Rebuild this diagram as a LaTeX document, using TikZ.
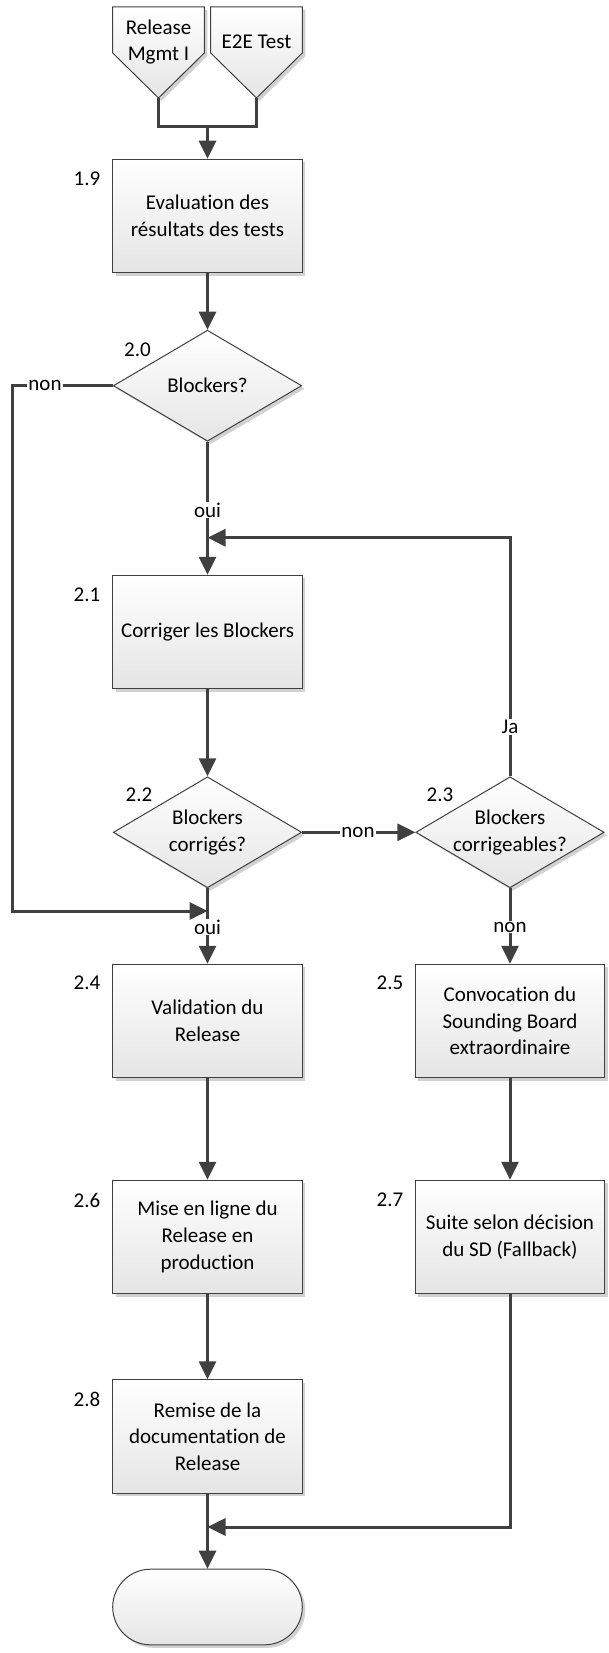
\documentclass[tikz,border=0pt]{standalone}
\usepackage{fontspec}
\setmainfont{Carlito}[RawFeature={-liga;-clig;-calt;-dlig}]
\usetikzlibrary{arrows.meta,shapes.geometric,shadows}
\definecolor{lineclr}{HTML}{404040}
\definecolor{fillbot}{HTML}{E5E5E5}

\begin{document}
\begin{tikzpicture}[x=1pt, y=-1pt,
  every node/.style={font=\fontsize{21}{26.7}\selectfont},
  shade/.style={draw=lineclr, line width=1pt, top color=white, bottom color=fillbot,
    drop shadow={shadow xshift=3pt, shadow yshift=-3pt, fill=black, opacity=0.18}},
  proc/.style={shade, rectangle, minimum width=189.6pt, minimum height=113.5pt, align=center},
  decision/.style={shade, diamond, minimum width=188.4pt, minimum height=111pt, inner sep=0pt},
  term/.style={shade, rectangle, rounded corners=37.8pt, minimum width=189.6pt, minimum height=75.6pt},
  conn/.style={draw=lineclr, line width=3pt},
  arr/.style={conn, -{Triangle[length=18pt, width=17pt]}},
  lbl/.style={fill=white, inner sep=1pt},
  dtext/.style={align=center}]
  \useasboundingbox (0, 0) rectangle (608, 1653);

  % off-page connectors
  \draw[shade] (112.7, 7) -- (204.3, 7) -- (204.3, 53) -- (158.5, 98) -- (112.7, 53) -- cycle;
  \draw[shade] (210.7, 7) -- (302.3, 7) -- (302.3, 53) -- (256.5, 98) -- (210.7, 53) -- cycle;
  \node[align=center] (rel) at (158.5, 42) {Release\\Mgmt I};
  \node (e2e) at (256.5, 42) {E2E Test};
  \coordinate (relTip) at (158.5, 98);
  \coordinate (e2eTip) at (256.5, 98);

  % process boxes
  \node[proc] (b19) at (207.5, 216) {Evaluation des\\résultats des tests};
  \node[proc] (b21) at (207.5, 632) {Corriger les Blockers};
  \node[proc] (b24) at (207.5, 1021) {Validation du\\Release};
  \node[proc] (b25) at (510, 1021) {Convocation du\\Sounding Board\\extraordinaire};
  \node[proc] (b26) at (207.5, 1237) {Mise en ligne du\\Release en\\production};
  \node[proc] (b27) at (510, 1237) {Suite selon décision\\du SD (Fallback)};
  \node[proc] (b28) at (207.5, 1436.5) {Remise de la\\documentation de\\Release};
  \node[term] (stop) at (207.5, 1607) {};

  % decisions
  \node[decision] (d20) at (207.5, 385.7) {};
  \node[decision] (d22) at (207.5, 832.3) {};
  \node[decision] (d23) at (510, 832.3) {};
  \node[dtext] (d20t) at (d20) {Blockers?};
  \node[dtext] (d22t) at (d22) {Blockers\\corrigés?};
  \node[dtext] (d23t) at (d23) {Blockers\\corrigeables?};

  % step numbers
  \node (n19) at (87, 179) {1.9};
  \node (n20) at (137.5, 350) {2.0};
  \node (n21) at (87, 595) {2.1};
  \node (n22) at (139, 795) {2.2};
  \node (n23) at (440, 795) {2.3};
  \node (n24) at (87, 983) {2.4};
  \node (n25) at (390, 983) {2.5};
  \node (n26) at (87, 1200) {2.6};
  \node (n27) at (390, 1200) {2.7};
  \node (n28) at (87, 1399) {2.8};

  % join points
  \coordinate (join0) at (207.5, 127);
  \coordinate (join1) at (207.5, 911);
  \coordinate (join2) at (207.5, 537.7);
  \coordinate (join3) at (207.5, 1527);
  \coordinate (loopL) at (12, 911);

  % connectors
  \draw[conn] (relTip) |- (join0);
  \draw[conn] (e2eTip) |- (join0);
  \draw[arr] (join0) -- (b19);
  \draw[arr] (b19) -- (d20);
  \draw[arr] (d20) -- (b21);
  \draw[arr] (b21) -- (d22);
  \draw[arr] (d22) -- (b24);
  \draw[arr] (b24) -- (b26);
  \draw[arr] (b26) -- (b28);
  \draw[arr] (b28) -- (stop);
  \draw[arr] (d22) -- (d23);
  \draw[arr] (d23) -- (b25);
  \draw[arr] (b25) -- (b27);
  \draw[arr] (d20.west) -| (loopL) -- (join1);
  \draw[arr] (d23.north) |- (join2);
  \draw[arr] (b27.south) |- (join3);

  % connector labels
  \node[lbl] (l1) at (45, 385.7) {non};
  \node[lbl] (l2) at (207.5, 510) {oui};
  \node[lbl] (l3) at (510, 727) {Ja};
  \node[lbl] (l4) at (358, 832.3) {non};
  \node[lbl] (l5) at (207.5, 927) {oui};
  \node[lbl] (l6) at (510, 927) {non};
\end{tikzpicture}
\end{document}
